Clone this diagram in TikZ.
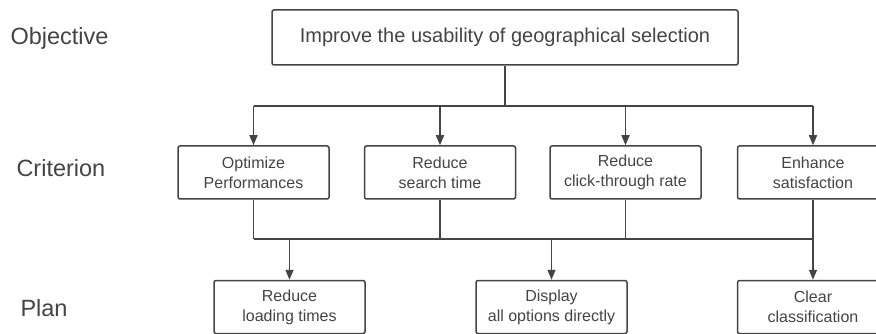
\documentclass[tikz,border=0pt]{standalone}
\usepackage{fontspec}
\setmainfont{Liberation Sans}
\usetikzlibrary{arrows.meta}
\definecolor{ink}{HTML}{444444}
\tikzset{
  box/.style={draw=ink,line width=1.5pt,rounded corners=2pt,align=center,text=ink,
    minimum width=151pt,minimum height=53pt,font=\fontsize{16}{20}\selectfont},
  lvl/.style={anchor=west,text=ink,font=\fontsize{23.5}{26}\selectfont},
  link/.style={draw=ink,line width=1.5pt},
  arr/.style={link,-{Triangle[length=10pt,width=8pt]}}
}
\begin{document}
\begin{tikzpicture}[x=1pt,y=-1pt]
  \useasboundingbox (0,0) rectangle (876,334);
  \clip (0,0) rectangle (876,334);
  % levels
  \node[lvl] (lobj) at (7,38) {Objective};
  \node[lvl] (lcrit) at (13,168) {Criterion};
  \node[lvl] (lplan) at (17,308) {Plan};
  % objective
  \node[box,minimum width=466pt,minimum height=55pt,font=\fontsize{20}{22}\selectfont] (obj) at (505,37.5)
    {Improve the usability of geographical selection};
  % criteria
  \node[box] (c1) at (253.5,172.5) {Optimize\\Performances};
  \node[box] (c2) at (440,172.5) {Reduce\\search time};
  \node[box] (c3) at (625.5,172.5) {Reduce\\click-through rate};
  \node[box] (c4) at (813,172.5) {Enhance\\satisfaction};
  % plans
  \node[box] (p1) at (289.5,307) {Reduce\\loading times};
  \node[box] (p2) at (551.5,307) {Display\\all options directly};
  \node[box] (p3) at (813,307) {Clear\\classification};
  \coordinate (tb) at (505,106);
  \coordinate (lb) at (505,239);
  \draw[link] (obj) -- (tb);
  \draw[link] (tb -| c1) -- (tb -| c4);
  \foreach \c in {c1,c2,c3,c4} {
    \draw[arr] (tb -| \c) -- (\c);
    \draw[link] (\c) -- (lb -| \c);
  }
  \draw[link] (lb -| c1) -- (lb -| c4);
  \foreach \p in {p1,p2,p3}
    \draw[arr] (lb -| \p) -- (\p);
\end{tikzpicture}
\end{document}
